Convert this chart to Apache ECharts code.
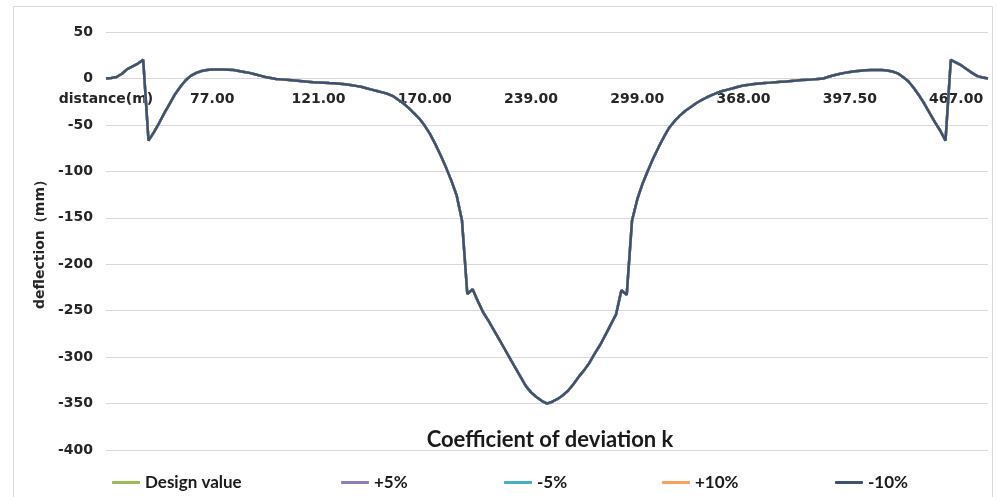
<!DOCTYPE html>
<html>
<head>
<meta charset="utf-8">
<script src="https://cdn.jsdelivr.net/npm/echarts@6/dist/echarts.min.js"></script>
<style>html,body{margin:0;padding:0;background:#fff}#c{width:997px;height:497px}</style>
</head>
<body>
<div id="c"></div>
<script>
// Tick labels on the category (distance) axis, one every POINTS_PER_TICK points
const tickLabels = ['distance(m)', '77.00', '121.00', '170.00', '239.00', '299.00', '368.00', '397.50', '467.00'];
const POINTS_PER_TICK = 20;

// Series names (legend order)
const seriesNames = ['Design value', '+5%', '-5%', '+10%', '-10%'];

// Deflection (mm); the five series overlap completely
const deflection = [
  0, 0.5, 1.5, 5, 10, 13, 16, 20, -67, -58,
  -48, -37, -27, -17, -9, -2, 3, 6, 8, 9,
  9.5, 9.5, 9.5, 9.3, 9, 8, 7, 6, 4.5, 3,
  1.5, 0.5, -0.5, -1, -1.5, -2, -2.5, -3, -3.5, -4,
  -4.3, -4.6, -5, -5.3, -5.7, -6.2, -7, -8, -9, -10.5,
  -12, -13.5, -15, -16.5, -19, -23, -27, -32, -37.5, -43.5,
  -51, -60, -71, -83, -96, -110, -126, -153, -232, -227,
  -240, -252, -261, -271, -281, -291, -301, -311, -321, -331,
  -338, -343, -347, -350, -348, -345, -341, -336, -329, -321,
  -314, -306, -296, -287, -276, -265, -254, -228, -233, -153,
  -130, -113, -99, -86, -74, -63, -53, -46, -40, -35,
  -31, -27, -23.5, -20.5, -18, -15.5, -13.5, -12, -10.5, -9,
  -7.5, -6.8, -6, -5.4, -4.9, -4.5, -4, -3.6, -3.2, -2.7,
  -2.3, -1.8, -1.4, -1, -0.5, 0, 1.8, 3.5, 4.8, 6,
  7, 7.8, 8.4, 8.8, 9, 9, 9, 8.5, 7.5, 5.5,
  1.5, -3, -10, -18, -27, -37, -47, -56, -67, 20,
  17, 14, 10, 6, 2.5, 1, 0
];
const designValue = deflection;
const plus5 = deflection;
const minus5 = deflection;
const plus10 = deflection;
const minus10 = deflection;
const seriesData = [designValue, plus5, minus5, plus10, minus10];

// Value-axis range
const Y_MIN = -400, Y_MAX = 50, Y_STEP = 50;

const colors = ['#9BBB59', '#8E7CC3', '#4BACC6', '#F4A261', '#3C5374'];
const legendLefts = [107, 336, 499, 657, 830];

const categories = deflection.map((_, i) =>
  i % POINTS_PER_TICK === 0 && tickLabels[i / POINTS_PER_TICK] !== undefined ? tickLabels[i / POINTS_PER_TICK] : '');

const GRID = { left: 106, right: 9, top: 32, bottom: 47 };
const gridHeight = 497 - GRID.top - GRID.bottom;
// place the category axis on the zero line of the value axis
const xOffset = -gridHeight * (0 - Y_MIN) / (Y_MAX - Y_MIN);

const chart = echarts.init(document.getElementById('c'), null, { renderer: 'canvas' });
const labelFont = { fontFamily: 'DejaVu Sans', fontWeight: 'bold', fontSize: 14, color: '#262626' };

chart.setOption({
  animation: false,
  backgroundColor: '#fff',
  color: colors,
  title: {
    text: 'Coefficient of deviation k',
    left: 545, top: 424, textAlign: 'center',
    textStyle: { fontFamily: 'Lato', fontWeight: 'bold', fontSize: 22, color: '#1a1a1a' }
  },
  graphic: [{
    type: 'rect', silent: true, z: -10,
    shape: { x: 13.5, y: 6.5, width: 979, height: 530 },
    style: { fill: 'none', stroke: '#d9d9d9', lineWidth: 1 }
  }],
  legend: seriesNames.map((n, k) => ({
    data: [n], left: legendLefts[k], top: 469,
    icon: 'roundRect', itemWidth: 28, itemHeight: 3, itemGap: 0,
    textStyle: { fontFamily: 'Lato', fontWeight: 'bold', fontSize: 17, color: '#1a1a1a' }
  })),
  grid: GRID,
  xAxis: {
    type: 'category', data: categories, boundaryGap: false,
    position: 'bottom', offset: xOffset,
    axisLine: { show: false, onZero: false },
    axisTick: { show: false },
    splitLine: { show: false },
    axisLabel: Object.assign({ interval: 0, margin: 14 }, labelFont)
  },
  yAxis: {
    type: 'value', min: Y_MIN, max: Y_MAX, interval: Y_STEP,
    name: 'deflection（mm）', nameLocation: 'middle', nameGap: 59, nameRotate: 90,
    nameTextStyle: labelFont,
    axisLine: { show: false }, axisTick: { show: false },
    splitLine: { lineStyle: { color: '#d9d9d9', width: 1 } },
    axisLabel: Object.assign({ margin: 13 }, labelFont)
  },
  series: seriesNames.map((n, k) => ({
    name: n, type: 'line', data: seriesData[k],
    symbol: 'none', smooth: false,
    lineStyle: { width: 2.5, color: colors[k] },
    itemStyle: { color: colors[k] }
  }))
});
</script>
</body>
</html>
